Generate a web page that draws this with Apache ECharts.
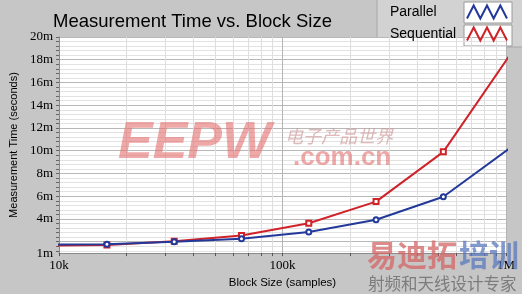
<!DOCTYPE html>
<html>
<head>
<meta charset="utf-8">
<script src="https://cdn.jsdelivr.net/npm/echarts@6/dist/echarts.min.js"></script>
<style>html,body{margin:0;padding:0;background:#c6c6c6;}#c{width:522px;height:294px;}</style>
</head>
<body>
<div id="c"></div>
<script>
// ---- data (times in milliseconds) ----
const blockSizes = [8192, 16384, 32768, 65536, 131072, 262144, 524288, 1048576];
const parallel   = [1.75, 1.78, 2.0, 2.26, 2.85, 3.93, 5.96, 10.27];
const sequential = [1.66, 1.72, 2.05, 2.54, 3.62, 5.53, 9.9, 18.5];
const seriesNames = ['Parallel', 'Sequential'];
const xLabelValues = [10000, 100000, 1000000];
const xLabelTexts = ['10k', '100k', '1M'];
const xTickValues = [10000,20000,30000,40000,50000,60000,70000,80000,90000,
                     100000,200000,300000,400000,500000,600000,700000,800000,900000,1000000];
const yLabelValues = [1, 4, 6, 8, 10, 12, 14, 16, 18, 20];
const yTickValues = [];
for (let v = 1.2; v <= 20.001; v += 0.4) yTickValues.push(Math.round(v * 10) / 10);

const chart = echarts.init(document.getElementById('c'), null, {renderer: 'canvas'});
const zig = 'path://M0,10 L5,0 L10,10 L15,0 L20,10 L25,0 L30,10';
const blue = '#22399a', red = '#cf2229';

const option = {
  animation: false,
  backgroundColor: '#c6c6c6',
  title: {
    text: 'Measurement Time vs. Block Size',
    left: 48, top: 7,
    textStyle: {fontFamily: 'Liberation Sans', fontSize: 18.5, fontWeight: 'normal', color: '#000'}
  },
  graphic: [
    {type: 'rect', shape: {x: 377, y: -1, width: 146, height: 48}, style: {fill: '#d2d2d2', stroke: '#a6a6a6', lineWidth: 1}, z: -1},
    {type: 'rect', shape: {x: 464, y: 2, width: 48, height: 21}, style: {fill: '#fff', stroke: '#9a9a9a', lineWidth: 1}, z: 0},
    {type: 'rect', shape: {x: 464, y: 25, width: 48, height: 21}, style: {fill: '#fff', stroke: '#9a9a9a', lineWidth: 1}, z: 0},
    {type: 'text', left: 118, top: 118, z: 1, style: {text: 'EEPW', fill: 'rgba(226,110,110,0.6)', font: 'italic bold 52px "Liberation Sans"'}},
    {type: 'text', left: 285, top: 127, z: 1, style: {text: '电子产品世界', fill: 'rgba(200,140,140,0.6)', font: 'italic 18px "Noto Sans CJK SC"'}},
    {type: 'text', left: 293, top: 145, z: 1, style: {text: '.com.cn', fill: 'rgba(226,110,110,0.6)', font: 'bold 26px "Liberation Sans"'}},
    {type: 'text', left: 367, top: 240, z: 1, style: {text: '易迪拓', fill: 'rgba(214,100,100,0.75)', font: 'bold 30px "Noto Sans CJK SC"'}},
    {type: 'text', left: 459, top: 240, z: 1, style: {text: '培训', fill: 'rgba(90,120,190,0.75)', font: 'bold 30px "Noto Sans CJK SC"'}},
    {type: 'text', left: 368, top: 275, z: 1, style: {text: '射频和天线设计专家', fill: 'rgba(110,110,110,0.85)', font: '16.5px "Noto Sans CJK SC"'}}
  ],
  legend: {
    orient: 'vertical', left: 390, top: 4, align: 'right',
    itemWidth: 40, itemHeight: 13, itemGap: 6, padding: 0,
    symbolKeepAspect: false, selectedMode: false, z: 5,
    formatter: '{a|{name}}',
    textStyle: {fontFamily: 'Liberation Sans', fontSize: 14, color: '#000', width: 72, lineHeight: 16,
      rich: {a: {align: 'left', fontFamily: 'Liberation Sans', fontSize: 14, color: '#000'}}},
    data: [
      {name: seriesNames[0], icon: zig, itemStyle: {color: 'rgba(0,0,0,0)', borderColor: blue, borderWidth: 2}},
      {name: seriesNames[1], icon: zig, itemStyle: {color: 'rgba(0,0,0,0)', borderColor: red, borderWidth: 2}}
    ]
  },
  grid: {left: 52, right: 16, top: 37, bottom: 35, show: true, backgroundColor: '#fff', borderWidth: 0},
  xAxis: {
    type: 'log', logBase: 10, min: 10000, max: 1000000,
    name: 'Block Size (samples)', nameLocation: 'middle', nameGap: 17,
    nameTextStyle: {fontFamily: 'Liberation Sans', fontSize: 11.5, color: '#000'},
    axisLine: {lineStyle: {color: '#8a8a8a'}},
    axisTick: {show: true, length: 3, customValues: xTickValues, lineStyle: {color: '#555'}},
    axisLabel: {customValues: xLabelValues, margin: 6, fontFamily: 'Liberation Serif', fontSize: 13, color: '#000',
      formatter: v => { const i = xLabelValues.findIndex(x => Math.abs(x - v) / x < 1e-6); return i >= 0 ? xLabelTexts[i] : ''; }},
    splitLine: {show: true, lineStyle: {width: 1, color: ['#b4b4b4','#dedede','#dedede','#dedede','#dedede','#dedede','#dedede','#dedede','#dedede']}}
  },
  yAxis: {
    type: 'value', min: 1, max: 20,
    name: 'Measurement Time (seconds)', nameLocation: 'middle', nameGap: 35,
    nameTextStyle: {fontFamily: 'Liberation Sans', fontSize: 11, color: '#000'},
    axisLine: {show: true, lineStyle: {color: '#8a8a8a'}},
    axisTick: {show: true, length: 3, customValues: yTickValues, lineStyle: {color: '#666'}},
    axisLabel: {customValues: yLabelValues, margin: 6, fontFamily: 'Liberation Serif', fontSize: 13, color: '#000',
      formatter: v => v + 'm'},
    splitLine: {show: true, lineStyle: {width: 1, color: ['#e2e2e2','#e2e2e2','#b8b8b8','#e2e2e2','#e2e2e2']}}
  },
  series: [
    {name: seriesNames[0], type: 'line', z: 3, clip: true,
     data: blockSizes.map((x, i) => [x, parallel[i]]),
     symbol: 'emptyCircle', symbolSize: 5, showAllSymbol: true,
     lineStyle: {color: blue, width: 2}, itemStyle: {color: blue, borderWidth: 1}},
    {name: seriesNames[1], type: 'line', z: 2, clip: true,
     data: blockSizes.map((x, i) => [x, sequential[i]]),
     symbol: 'emptyRect', symbolSize: 5, showAllSymbol: true,
     lineStyle: {color: red, width: 2}, itemStyle: {color: red, borderWidth: 1}}
  ]
};
chart.setOption(option);
</script>
</body>
</html>
